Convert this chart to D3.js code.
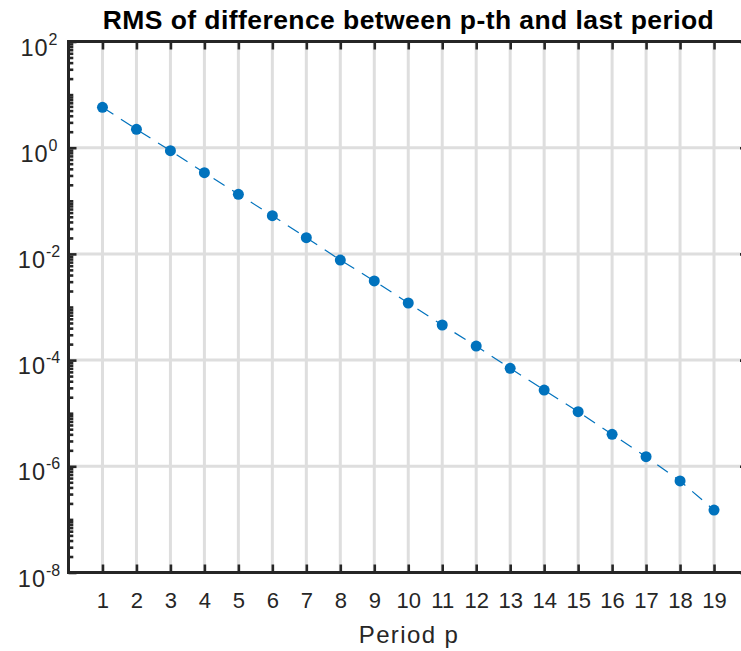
<!DOCTYPE html>
<html>
<head>
<meta charset="utf-8">
<script src="https://cdn.jsdelivr.net/npm/d3@7"></script>
<style>
  html, body { margin: 0; padding: 0; background: #fff; }
  svg { display: block; font-family: "Liberation Sans", Arial, Helvetica, sans-serif; }
</style>
</head>
<body>
<svg id="chart" width="741" height="651"></svg>
<script>
// ---- data ----
const periods = [1, 2, 3, 4, 5, 6, 7, 8, 9, 10, 11, 12, 13, 14, 15, 16, 17, 18, 19];
const rmsValues = [5.77, 2.22, 0.879, 0.338, 0.1325, 0.0524, 0.0202, 0.00767, 0.00309,
                   0.00119, 4.58e-4, 1.84e-4, 7.0e-5, 2.73e-5, 1.07e-5, 4.0e-6, 1.52e-6,
                   5.29e-7, 1.50e-7];
const xTickValues = [1, 2, 3, 4, 5, 6, 7, 8, 9, 10, 11, 12, 13, 14, 15, 16, 17, 18, 19];
const yTickExponents = [2, 0, -2, -4, -6, -8];
const titleText = "RMS of difference between p-th and last period";
const xLabelText = "Period p";

// ---- layout ----
const pLeft = 68.5, pRight = 748, pTop = 41.5, pBottom = 572.5;
const axisColor = "#262626";
const gridColor = "#dedede";
const lineColor = "#0072BD";

const svg = d3.select("#chart");

const x = d3.scaleLinear().domain([0, 20]).range([pLeft, pRight]);
const y = d3.scaleLog().domain([1e-8, 1e2]).range([pBottom, pTop]);

const majorY = yTickExponents.map(e => Math.pow(10, e));
const minorY = [];
for (let e = -8; e < 2; e++) {
  for (let d = 1; d <= 9; d++) {
    const v = d * Math.pow(10, e);
    if (d === 1 && e % 2 === 0) continue;
    minorY.push(v);
  }
}

// ---- grid ----
const grid = svg.append("g");
grid.selectAll("line.vg").data(xTickValues).enter().append("line")
  .attr("x1", d => x(d)).attr("x2", d => x(d))
  .attr("y1", pTop).attr("y2", pBottom)
  .attr("stroke", gridColor).attr("stroke-width", 3);
grid.selectAll("line.hg").data(majorY.filter(v => v < 1e2 && v > 1e-8)).enter().append("line")
  .attr("x1", pLeft).attr("x2", pRight)
  .attr("y1", d => y(d)).attr("y2", d => y(d))
  .attr("stroke", gridColor).attr("stroke-width", 3);

// ---- axes ticks ----
function styleAxis(g) {
  g.select(".domain").remove();
  g.selectAll(".tick line").attr("stroke", axisColor).attr("stroke-width", 2.6);
}

// bottom
const xAxisB = svg.append("g").attr("transform", `translate(0,${pBottom})`)
  .call(d3.axisBottom(x).tickValues(xTickValues).tickSizeInner(-8).tickSizeOuter(0).tickPadding(0).tickFormat(d3.format("d")));
styleAxis(xAxisB);
xAxisB.selectAll(".tick text")
  .attr("y", 35.5).attr("dy", null)
  .attr("fill", axisColor)
  .style("font-size", "22px")
  .style("font-family", "'Liberation Sans', Arial, sans-serif");

// top
const xAxisT = svg.append("g").attr("transform", `translate(0,${pTop})`)
  .call(d3.axisTop(x).tickValues(xTickValues).tickSizeInner(-8).tickSizeOuter(0).tickFormat(""));
styleAxis(xAxisT);

// left major
const yAxisL = svg.append("g").attr("transform", `translate(${pLeft},0)`)
  .call(d3.axisLeft(y).tickValues(majorY).tickSizeInner(-8).tickSizeOuter(0).tickFormat(""));
styleAxis(yAxisL);
// left minor
const yAxisLm = svg.append("g").attr("transform", `translate(${pLeft},0)`)
  .call(d3.axisLeft(y).tickValues(minorY).tickSizeInner(-4.8).tickSizeOuter(0).tickFormat(""));
styleAxis(yAxisLm);
// right major
const yAxisR = svg.append("g").attr("transform", `translate(${pRight},0)`)
  .call(d3.axisRight(y).tickValues(majorY).tickSizeInner(-8).tickSizeOuter(0).tickFormat(""));
styleAxis(yAxisR);
const yAxisRm = svg.append("g").attr("transform", `translate(${pRight},0)`)
  .call(d3.axisRight(y).tickValues(minorY).tickSizeInner(-4.8).tickSizeOuter(0).tickFormat(""));
styleAxis(yAxisRm);

// y tick labels 10^e
const yLabels = svg.append("g");
yTickExponents.forEach(e => {
  const t = yLabels.append("text")
    .attr("x", 39).attr("y", y(Math.pow(10, e)) + 14)
    .attr("text-anchor", "middle")
    .attr("fill", axisColor);
  t.append("tspan").text("10").style("font-size", "23.5px").style("letter-spacing", "1px");
  t.append("tspan").text(e < 0 ? "-" + Math.abs(e) : String(e))
    .attr("dy", -11)
    .style("font-size", "16px");
});

// frame (spines)
svg.append("rect")
  .attr("x", pLeft).attr("y", pTop)
  .attr("width", pRight - pLeft).attr("height", pBottom - pTop)
  .attr("fill", "none").attr("stroke", axisColor).attr("stroke-width", 3);

// ---- data line ----
const pts = periods.map((p, i) => [p, rmsValues[i]]);
svg.append("path")
  .datum(pts)
  .attr("d", d3.line().x(d => x(d[0])).y(d => y(d[1])))
  .attr("fill", "none")
  .attr("stroke", lineColor)
  .attr("stroke-width", 1.2)
  .attr("stroke-dasharray", "13,9");

svg.append("g").selectAll("circle").data(pts).enter().append("circle")
  .attr("cx", d => x(d[0])).attr("cy", d => y(d[1]))
  .attr("r", 5.5)
  .attr("fill", lineColor);

// ---- title & label ----
svg.append("text")
  .attr("x", (pLeft + pRight) / 2).attr("y", 29.3)
  .attr("text-anchor", "middle")
  .attr("fill", "#000")
  .attr("textLength", 611).attr("lengthAdjust", "spacing")
  .style("font-size", "26.5px").style("font-weight", "bold")
  .text(titleText);

svg.append("text")
  .attr("x", (pLeft + pRight) / 2).attr("y", 643)
  .attr("text-anchor", "middle")
  .attr("fill", axisColor)
  .attr("textLength", 99).attr("lengthAdjust", "spacing")
  .style("font-size", "24px")
  .text(xLabelText);
</script>
</body>
</html>
